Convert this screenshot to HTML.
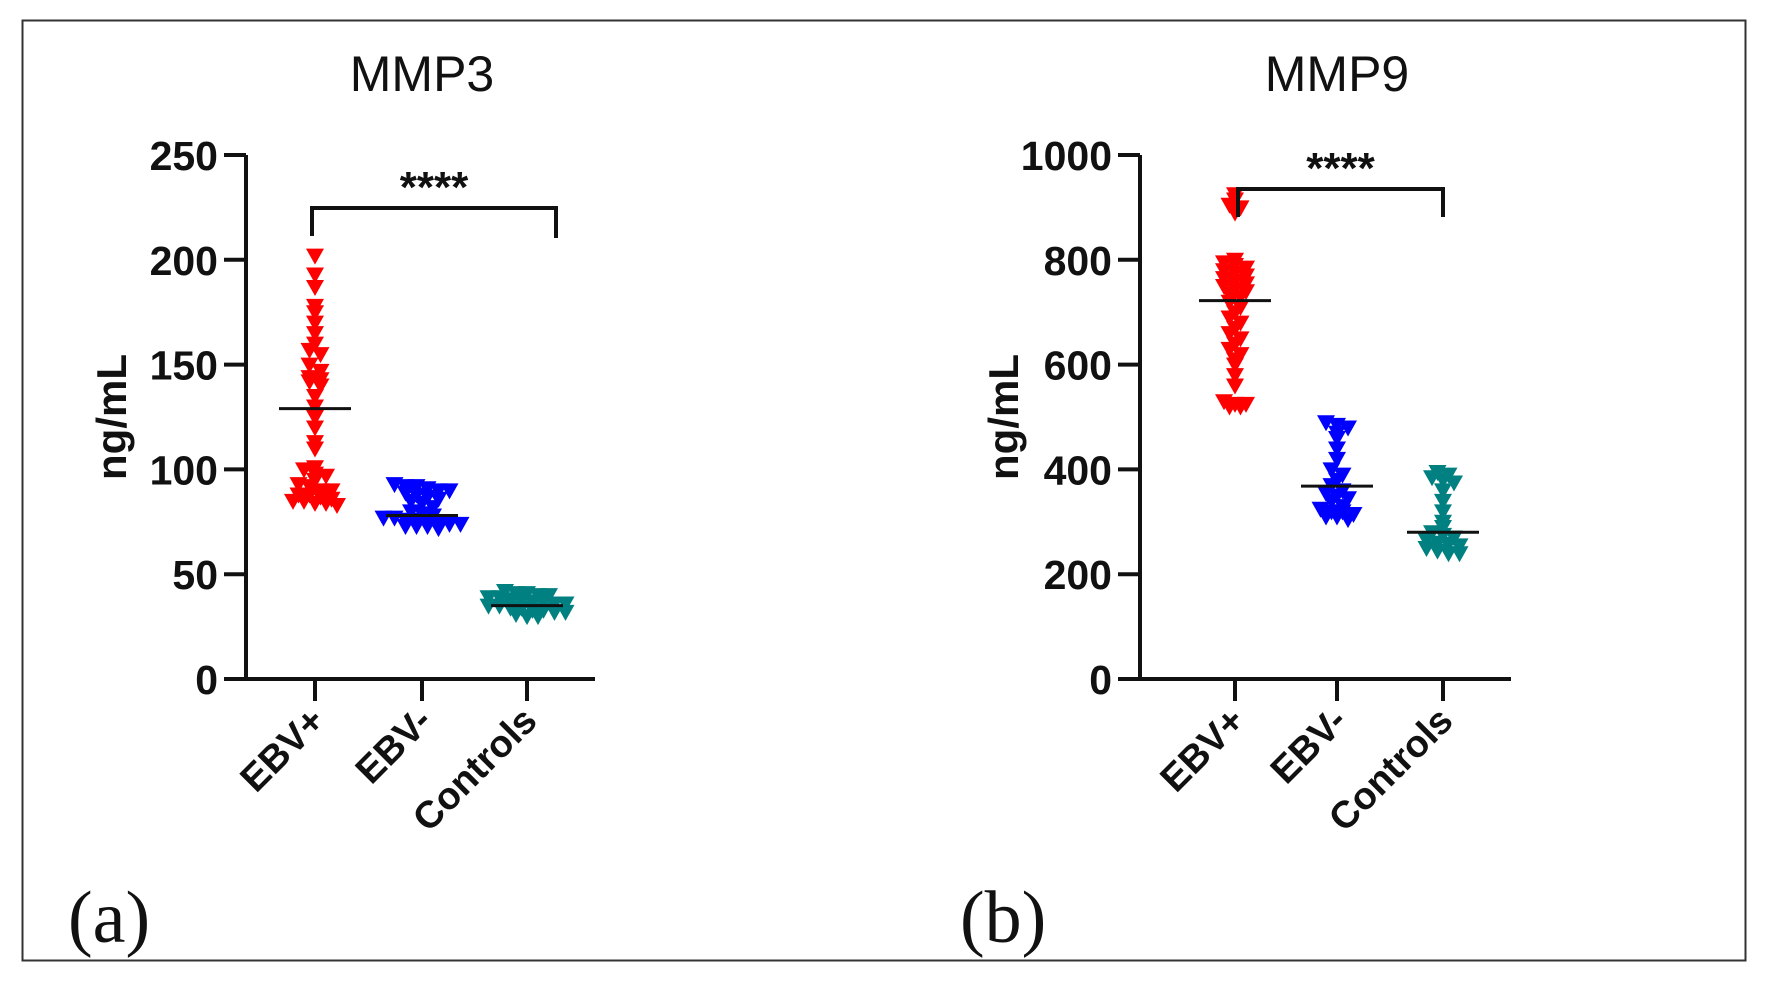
<!DOCTYPE html>
<html><head><meta charset="utf-8"><style>
html,body{margin:0;padding:0;background:#fff;}
svg{display:block;font-family:"Liberation Sans",Arial,sans-serif;}
</style></head><body>
<svg id="fig" width="1765" height="982" viewBox="0 0 1765 982">
<rect x="22.5" y="20.5" width="1723" height="940" fill="none" stroke="#333" stroke-width="2"/>
</svg>
<script>
const categories=["EBV+","EBV-","Controls"];
const colors=["#ff0000","#0000ff","#008080"];
const mmp3Ticks=[0,50,100,150,200,250];
const mmp9Ticks=[0,200,400,600,800,1000];
const mmp3EbvPos=[202,193,187,178,175,170,165,160,157,155,150,147,144,143,142,140,135,130,125,120,113,110,101,100,98,97,95,93,92,90,90,88,88,87,86,85,85,84,84,83];
const mmp3EbvNeg=[93,92,92,91,90,90,89,88,87,86,85,84,82,80,79,78,77,77,76,76,75,75,74,74,73,73,73,72];
const mmp3Controls=[42,41,41,40,40,39,39,38,38,37,37,36,36,35,35,34,34,33,33,32,32,31,30,30];
const mmp3Medians=[129,78,35];
const mmp9EbvPos=[925,915,905,900,890,800,795,790,785,780,775,770,765,760,755,750,745,740,735,730,720,710,700,690,680,670,660,650,640,630,620,610,600,580,560,530,525,525,520,520];
const mmp9EbvNeg=[490,485,480,470,460,440,420,400,390,380,370,360,355,350,345,340,330,325,320,320,315,310,310,305];
const mmp9Controls=[395,390,385,380,375,360,340,320,300,290,280,275,270,265,260,258,255,250,245,240,240];
const mmp9Medians=[722,368,280];

const NS="http://www.w3.org/2000/svg";
const svg=document.getElementById('fig');
function mk(tag,attrs,parent){const e=document.createElementNS(NS,tag);for(const k in attrs)e.setAttribute(k,attrs[k]);(parent||svg).appendChild(e);return e;}

function panel(cfg){
  const g=mk('g',{});
  
  
  const y=v=>cfg.y0-(v/cfg.max)*(cfg.y0-cfg.yTop);
  const t=mk('text',{x:cfg.titleX,y:91,'text-anchor':'middle','font-size':50,fill:'#111'},g);t.textContent=cfg.title;
  
  
  mk('line',{x1:cfg.ax,y1:cfg.yTop,x2:cfg.ax,y2:cfg.y0+2,stroke:'#111','stroke-width':4},g);
  mk('line',{x1:cfg.ax-22,y1:cfg.y0,x2:cfg.xEnd,y2:cfg.y0,stroke:'#111','stroke-width':4},g);
  cfg.ticks.forEach(v=>{
    mk('line',{x1:cfg.ax-22,y1:y(v),x2:cfg.ax,y2:y(v),stroke:'#111','stroke-width':4},g);
    const l=mk('text',{x:cfg.ax-28,y:y(v)+15,'text-anchor':'end','font-size':41,'font-weight':'bold',fill:'#111'},g);
    l.textContent=v;
    
    
  });
  const yl=mk('text',{x:0,y:0,'text-anchor':'middle','font-size':42,'font-weight':'bold',fill:'#111',transform:`translate(${cfg.ylabX},417) rotate(-90)`},g);
  yl.textContent='ng/mL';
  
  
  categories.forEach((c,i)=>{
    const cx=cfg.cx[i];
    mk('line',{x1:cx,y1:cfg.y0,x2:cx,y2:cfg.y0+22,stroke:'#111','stroke-width':4},g);
    const l=mk('text',{x:0,y:0,'text-anchor':'end','font-size':38,'font-weight':'bold',fill:'#111',transform:`translate(${cx+12},${cfg.y0+44}) rotate(-45)`},g);
    l.textContent=c;
    
    
    const vals=cfg.data[i].slice().sort((a,b)=>b-a);
    const bins={};
    vals.forEach(v=>{const k=Math.round(y(v)/8);(bins[k]=bins[k]||[]).push(v);});
    Object.keys(bins).forEach(k=>{
      const arr=bins[k];const n=arr.length;
      arr.forEach((v,j)=>{
        const px=cx+(j-(n-1)/2)*11;const py=y(v);
        const p=mk('polygon',{points:`${px-9},${py-7} ${px+9},${py-7} ${px},${py+9}`,fill:colors[i]},g);
        
        
      });
    });
    const m=mk('line',{x1:cx-36,y1:y(cfg.med[i]),x2:cx+36,y2:y(cfg.med[i]),stroke:'#111','stroke-width':3},g);
    
    
  });
  const b=mk('path',{d:`M${cfg.br[0]},${cfg.br[3]} V${cfg.br[2]} H${cfg.br[1]} V${cfg.br[4]}`,fill:'none',stroke:'#111','stroke-width':4},g);
  
  
  const s=mk('text',{x:(cfg.br[0]+cfg.br[1])/2,y:cfg.br[2]-6,'text-anchor':'middle','font-size':44,'font-weight':'bold',fill:'#111'},g);
  s.textContent='****';
  
  
  const pl=mk('text',{x:68,y:942,'font-size':74,fill:'#111','font-family':'"Liberation Serif",serif'},g);
  pl.setAttribute('x',cfg.plX);
  pl.textContent=cfg.panelLabel;
  
  
}
panel({name:'mmp3-chart',title:'MMP3',titleX:422,ax:246,xEnd:595,y0:679,yTop:155,max:250,ticks:mmp3Ticks,
  cx:[315,422,527],data:[mmp3EbvPos,mmp3EbvNeg,mmp3Controls],med:mmp3Medians,ylabX:126,
  br:[312,556,208,236,238],panelLabel:'(a)',plX:68});
panel({name:'mmp9-chart',title:'MMP9',titleX:1337,ax:1140,xEnd:1511,y0:679,yTop:155,max:1000,ticks:mmp9Ticks,
  cx:[1235,1337,1443],data:[mmp9EbvPos,mmp9EbvNeg,mmp9Controls],med:mmp9Medians,ylabX:1018,
  br:[1238,1443,189,217,217],panelLabel:'(b)',plX:960});
</script>
</body></html>
